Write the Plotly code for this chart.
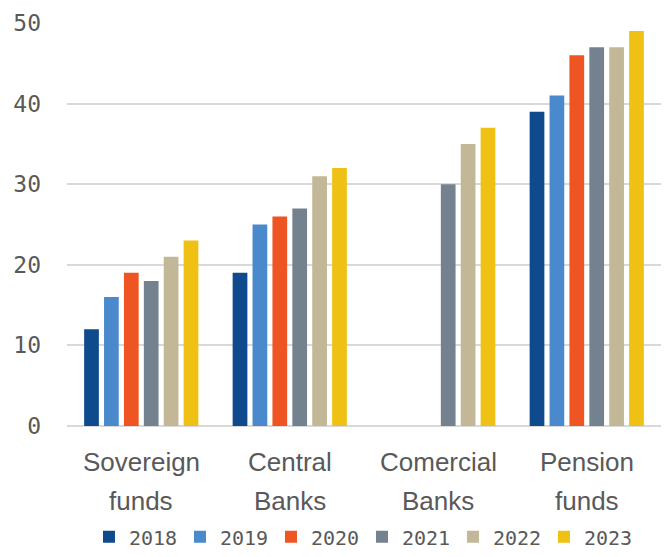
import plotly.graph_objects as go

categories = ["Sovereign<br>funds", "Central<br>Banks", "Comercial<br>Banks", "Pension<br>funds"]
years = ["2018", "2019", "2020", "2021", "2022", "2023"]
v2018 = [12, 19, None, 39]
v2019 = [16, 25, None, 41]
v2020 = [19, 26, None, 46]
v2021 = [18, 27, 30, 47]
v2022 = [21, 31, 35, 47]
v2023 = [23, 32, 37, 49]
series = [v2018, v2019, v2020, v2021, v2022, v2023]
colors = ["#0E4A8C", "#4A8ACC", "#EE5522", "#74818F", "#C2B796", "#EFC114"]
y_ticks = [0, 10, 20, 30, 40, 50]

txt = "#595959"
cat_font = "Liberation Sans, Arial, sans-serif"
num_font = "DejaVu Sans Mono, monospace"

fig = go.Figure()
for name, vals, col in zip(years, series, colors):
    fig.add_trace(go.Bar(x=categories, y=vals, name=name, marker_color=col,
                         marker_line_width=0))

# two-line category labels drawn as annotations for wider line spacing
for cat in categories:
    lines = cat.split("<br>")
    for i, line in enumerate(lines):
        fig.add_annotation(x=cat, xref="x", y=0, yref="paper", text=line,
                           showarrow=False, xanchor="center", yanchor="middle",
                           yshift=-36 - 39 * i,
                           font=dict(family=cat_font, size=26, color=txt))

fig.update_layout(
    width=672, height=557,
    margin=dict(l=67, r=11, t=23, b=131, autoexpand=False),
    paper_bgcolor="white", plot_bgcolor="white",
    barmode="group", bargap=0.196, bargroupgap=0.26,
    font=dict(family=cat_font, color=txt, size=21),
    xaxis=dict(showgrid=False, showline=False, ticks="", showticklabels=False),
    yaxis=dict(range=[0, 50], tickvals=y_ticks, showgrid=True, gridcolor="#D9D9D9",
               gridwidth=1.5, zeroline=True, zerolinecolor="#D9D9D9", zerolinewidth=1.5,
               ticks="", ticklabelstandoff=25,
               tickfont=dict(family=num_font, size=23, color=txt)),
    legend=dict(orientation="h", x=0.037, xanchor="left", y=-0.275, yanchor="middle",
                font=dict(family=num_font, size=20, color=txt), entrywidth=46,
                traceorder="normal", itemwidth=30),
    showlegend=True,
)
fig.write_html("out.html")
